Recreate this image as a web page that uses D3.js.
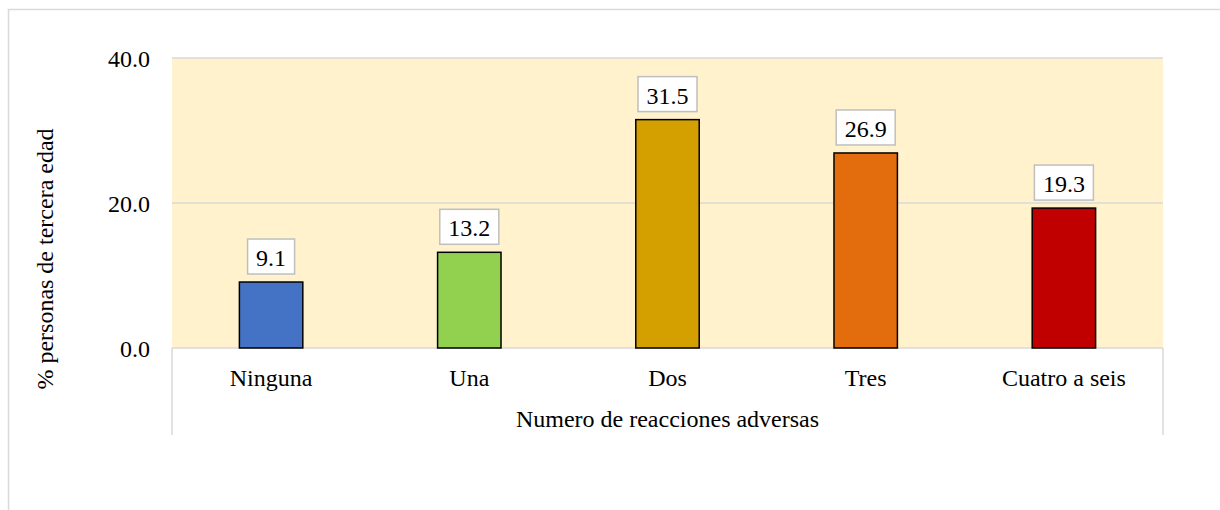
<!DOCTYPE html>
<meta charset="utf-8">
<script src="https://d3js.org/d3.v7.min.js"></script>
<style>
  body { margin: 0; background: #fff; }
</style>
<div id="my_dataviz"></div>
<script>

// data
var categories = ["Ninguna", "Una", "Dos", "Tres", "Cuatro a seis"];
var values = [9.1, 13.2, 31.5, 26.9, 19.3];
var barColors = ["#4472C4", "#92D050", "#D4A000", "#E36C0C", "#C00000"];
var yTicks = [0, 20, 40];
var xTitle = "Numero de reacciones adversas";
var yTitle = "% personas de tercera edad";

var W = 1220, H = 510;
var plot = {left: 172, right: 1163, top: 58, bottom: 348};
var serif = "'Liberation Serif', 'Times New Roman', Times, serif";

var svg = d3.select("#my_dataviz")
  .append("svg")
    .attr("width", W)
    .attr("height", H)
    .style("font-family", serif)
    .style("font-size", "24px");

// outer chart border (runs off the right/bottom of the picture)
svg.append("rect")
  .attr("x", 8.5).attr("y", 9.5)
  .attr("width", 1400).attr("height", 700)
  .attr("fill", "none")
  .attr("stroke", "#D9D9D9")
  .attr("stroke-width", 1.5);

var x = d3.scaleBand()
  .domain(categories)
  .range([plot.left, plot.right])
  .paddingInner(0.68)
  .paddingOuter(0.34);

var y = d3.scaleLinear()
  .domain([0, 40])
  .range([plot.bottom, plot.top]);

// plot background
svg.append("rect")
  .attr("x", plot.left).attr("y", plot.top)
  .attr("width", plot.right - plot.left)
  .attr("height", plot.bottom - plot.top)
  .attr("fill", "#FFF2CC");

// gridlines
svg.append("g")
  .selectAll("line")
  .data(yTicks)
  .enter()
  .append("line")
    .attr("x1", plot.left).attr("x2", plot.right)
    .attr("y1", function(d) { return y(d); })
    .attr("y2", function(d) { return y(d); })
    .attr("stroke", "#D9D9D9")
    .attr("stroke-width", 1.5);

function addText(sel) {
  return sel.append("text")
    .attr("font-family", serif)
    .attr("font-size", 24)
    .attr("fill", "#000");
}

// y tick labels
var tk = svg.append("g").selectAll("g").data(yTicks).enter().append("g");
addText(tk)
  .attr("x", 150)
  .attr("y", function(d) { return y(d) + 8.5; })
  .attr("text-anchor", "end")
  .text(function(d) { return d3.format(".1f")(d); });

// category axis box lines
svg.append("g")
  .selectAll("line")
  .data([plot.left, plot.right])
  .enter()
  .append("line")
    .attr("x1", function(d) { return d; })
    .attr("x2", function(d) { return d; })
    .attr("y1", plot.bottom).attr("y2", 435)
    .attr("stroke", "#D9D9D9")
    .attr("stroke-width", 1.5);

// bars
svg.append("g")
  .selectAll("rect")
  .data(values)
  .enter()
  .append("rect")
    .attr("x", function(d, i) { return x(categories[i]); })
    .attr("y", function(d) { return y(d); })
    .attr("width", x.bandwidth())
    .attr("height", function(d) { return y(0) - y(d); })
    .attr("fill", function(d, i) { return barColors[i]; })
    .attr("stroke", "#000")
    .attr("stroke-width", 1.5);

// data labels in boxes
var lab = svg.append("g")
  .selectAll("g")
  .data(values)
  .enter()
  .append("g")
    .attr("transform", function(d, i) {
      return "translate(" + (x(categories[i]) + x.bandwidth() / 2) + "," + y(d) + ")";
    });

function boxW(d) { return d3.format(".1f")(d).length * 12 - 6 + 17; }

lab.append("rect")
  .attr("x", function(d) { return -boxW(d) / 2; })
  .attr("y", -43)
  .attr("width", boxW)
  .attr("height", 35)
  .attr("fill", "#fff")
  .attr("stroke", "#BFBFBF")
  .attr("stroke-width", 1.5);

addText(lab)
  .attr("y", -16)
  .attr("text-anchor", "middle")
  .text(function(d) { return d3.format(".1f")(d); });

// category labels
var cg = svg.append("g").selectAll("g").data(categories).enter().append("g");
addText(cg)
  .attr("x", function(d) { return x(d) + x.bandwidth() / 2; })
  .attr("y", 386)
  .attr("text-anchor", "middle")
  .text(function(d) { return d; });

// axis titles
addText(svg)
  .attr("x", (plot.left + plot.right) / 2)
  .attr("y", 427)
  .attr("text-anchor", "middle")
  .text(xTitle);

addText(svg)
  .attr("transform", "translate(53,259) rotate(-90)")
  .attr("text-anchor", "middle")
  .text(yTitle);

</script>
